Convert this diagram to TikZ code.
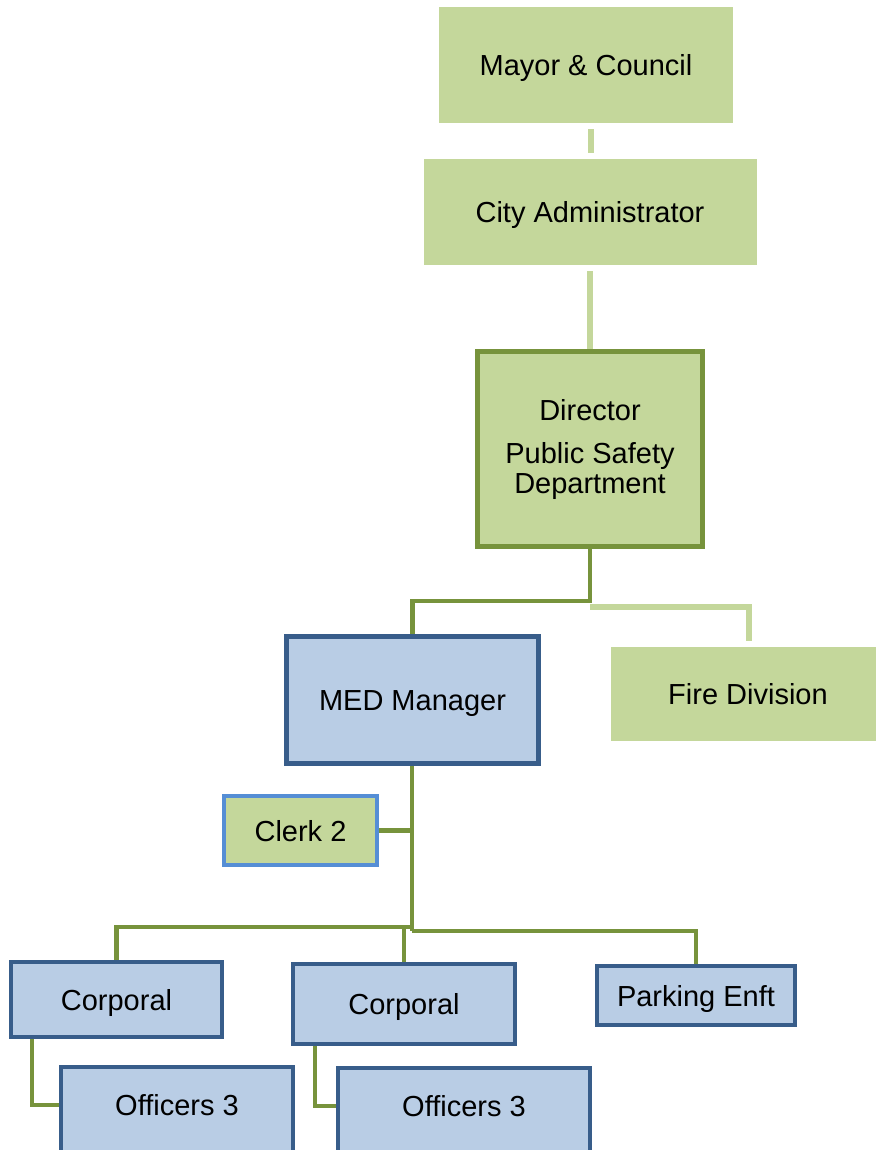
\documentclass[tikz,border=0pt]{standalone}
\usepackage{fontspec}
\setmainfont{Liberation Sans}
\definecolor{lg}{HTML}{C4D79B}
\definecolor{dg}{HTML}{77933C}
\definecolor{lb}{HTML}{B9CDE5}
\definecolor{db}{HTML}{385D8A}
\definecolor{mb}{HTML}{558ED5}
\begin{document}
\begin{tikzpicture}[x=1pt,y=-1pt,
  font=\fontsize{29}{30}\selectfont,
  box/.style={rectangle, inner sep=0pt, align=center},
  one/.style={text height=21pt, text depth=0pt},
  gbox/.style={box, fill=lg},
  dgbox/.style={box, fill=lg, draw=dg, line width=5pt},
  bbox/.style={box, fill=lb, draw=db, line width=4.5pt},
  clerkbox/.style={box, fill=lg, draw=mb, line width=4pt},
  lconn/.style={draw=lg, line width=6pt},
  dconn/.style={draw=dg, line width=4.5pt}]
\useasboundingbox (0,0) rectangle (875,1150);
% nodes
\node[gbox, one, minimum width=294pt, minimum height=116pt] (mayor) at (586,65) {Mayor \& Council};
\node[gbox, one, minimum width=333pt, minimum height=106pt] (city) at (590,212) {City Administrator};
\node[dgbox, minimum width=225pt, minimum height=195pt] (dir) at (590,449) {\raisebox{-3pt}{Director}\\[13pt]\raisebox{-3pt}{Public Safety}\\\raisebox{-3pt}{Department}};
\node[gbox, one, minimum width=274pt, minimum height=94pt] (fire) at (748,694) {Fire Division};
\node[bbox, one, minimum width=252pt, minimum height=127pt] (med) at (412.5,700) {MED Manager};
\node[clerkbox, one, minimum width=153pt, minimum height=69pt] (clerk) at (300.5,830.5) {Clerk 2};
\node[bbox, one, minimum width=211pt, minimum height=75pt] (corp1) at (116.5,999.5) {Corporal};
\node[bbox, one, minimum width=222pt, minimum height=80pt] (corp2) at (404,1004) {Corporal};
\node[bbox, one, minimum width=198pt, minimum height=59pt] (park) at (696,995.5) {Parking Enft};
\node[bbox, one, anchor=north, minimum width=232pt, minimum height=94pt] (off1) at (177,1064.5) {\raisebox{9pt}{Officers 3}};
\node[bbox, one, anchor=north, minimum width=252pt, minimum height=94pt] (off2) at (464,1065.5) {\raisebox{9pt}{Officers 3}};
% junctions
\coordinate (j1) at (590,601);
\coordinate (j2) at (590,607);
\coordinate (j3) at (412,927);
\coordinate (j4) at (412,931);
% connectors
\draw[lconn] ([xshift=1pt,yshift=6pt]city.north) -- ([xshift=1pt,yshift=30pt]city.north);
\draw[lconn] ([yshift=-6pt]city.south) -- (dir.north);
\draw[dconn] (dir.south) -- (j1) -| (med.north);
\draw[lconn] (j2) -| ([xshift=1pt,yshift=6pt]fire.north);
\draw[dconn] ([xshift=-0.5pt]med.south) -- (j4);
\draw[dconn] (clerk.east) -- (clerk.east -| j3);
\draw[dconn] (j3) -| (corp1.north);
\draw[dconn] (corp2.north |- j3) -- (corp2.north);
\draw[dconn] (j4) -| (park.north);
\draw[dconn] ([xshift=-84.5pt]corp1.south) |- ([yshift=9pt]off1.west);
\draw[dconn] ([xshift=-89pt]corp2.south) |- ([yshift=9pt]off2.west);
\end{tikzpicture}
\end{document}
